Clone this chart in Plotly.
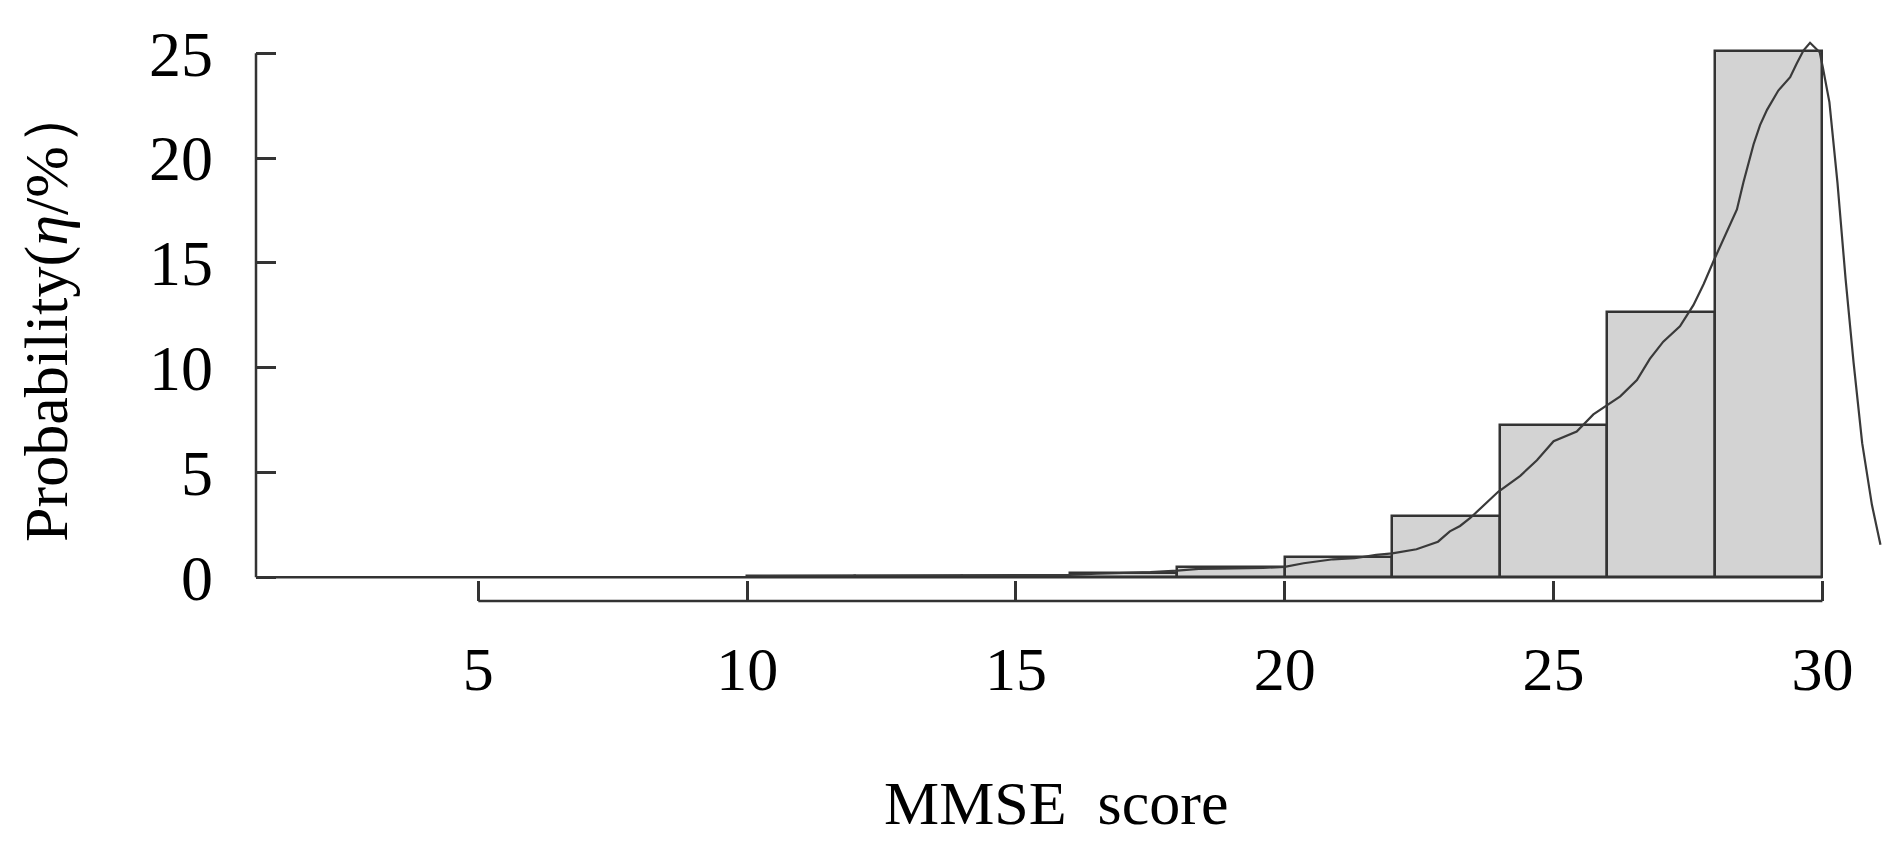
import plotly.graph_objects as go

# ---- data ----
bin_edges = [10, 12, 14, 16, 18, 20, 22, 24, 26, 28, 30]
bar_heights = [0.06, 0.06, 0.06, 0.19, 0.48, 0.98, 2.92, 7.26, 12.65, 25.1]

density_x = [10.0, 11.0, 12.0, 13.0, 14.0, 15.0, 16.0, 16.5, 17.0, 17.5, 18.0, 18.4, 18.8,
             19.2, 19.6, 20.0, 20.35, 20.9, 21.3, 21.7, 22.0, 22.45, 22.85, 23.07, 23.26,
             23.45, 23.97, 24.38, 24.69, 25.0, 25.43, 25.74, 25.96, 26.24, 26.55, 26.79,
             27.04, 27.35, 27.6, 27.79, 27.99, 28.22, 28.41, 28.53, 28.72, 28.84, 28.97,
             29.18, 29.4, 29.52, 29.65, 29.77, 29.95, 30.01, 30.13, 30.28, 30.43, 30.58,
             30.74, 30.92, 31.08]
density_y = [0.05, 0.06, 0.06, 0.07, 0.07, 0.08, 0.12, 0.17, 0.2, 0.25, 0.32, 0.4, 0.41,
             0.42, 0.45, 0.5, 0.67, 0.86, 0.91, 1.07, 1.14, 1.34, 1.7, 2.19, 2.45,
             2.83, 4.08, 4.84, 5.58, 6.49, 6.95, 7.77, 8.13, 8.63, 9.41, 10.42,
             11.24, 11.97, 12.98, 13.98, 15.17, 16.45, 17.55, 18.83, 20.66, 21.57, 22.3,
             23.22, 23.86, 24.5, 25.14, 25.5, 25.05, 24.3, 22.67, 18.83, 14.26, 10.24,
             6.4, 3.47, 1.55]

x_ticks = [5, 10, 15, 20, 25, 30]
y_ticks = [0, 5, 10, 15, 20, 25]
x_title = "MMSE&nbsp; score"
y_title = "Probability(<i>η</i>/%）"

FONT = "Liberation Serif, Times New Roman, serif"
LINE = "#333333"

X_RANGE = [0.865, 31.22]
Y_RANGE = [-1.13, 25.87]

centers = [(a + b) / 2 for a, b in zip(bin_edges[:-1], bin_edges[1:])]
widths = [b - a for a, b in zip(bin_edges[:-1], bin_edges[1:])]

fig = go.Figure()
fig.add_trace(go.Bar(
    x=centers, y=bar_heights, width=widths,
    marker=dict(color="#d3d3d3", line=dict(color=LINE, width=2.5)),
    showlegend=False, hoverinfo="skip",
))
fig.add_trace(go.Scatter(
    x=density_x, y=density_y, mode="lines",
    line=dict(color="#3a3a3a", width=2.2),
    showlegend=False, hoverinfo="skip",
))

# axis lines drawn as in base R (limited extents)
fig.add_shape(type="line", xref="paper", yref="y", x0=0, x1=0,
              y0=y_ticks[0], y1=y_ticks[-1], line=dict(color=LINE, width=2.5))
fig.add_shape(type="line", xref="x", yref="paper", x0=x_ticks[0], x1=x_ticks[-1],
              y0=0, y1=0, line=dict(color=LINE, width=2.5))
# baseline at zero, from the y axis to the last bin edge
fig.add_shape(type="line", xref="paper", yref="y", x0=0,
              x1=(bin_edges[-1] - X_RANGE[0]) / (X_RANGE[1] - X_RANGE[0]),
              y0=0, y1=0, line=dict(color=LINE, width=2.5))

fig.update_layout(
    width=1882, height=838,
    margin=dict(l=248, r=2, t=27, b=245),
    paper_bgcolor="white", plot_bgcolor="white",
    bargap=0,
    font=dict(family=FONT, color="black"),
    xaxis=dict(range=X_RANGE, tickvals=x_ticks, ticktext=[str(v) for v in x_ticks],
               ticks="inside", ticklen=20, tickwidth=2.5, tickcolor=LINE,
               showline=False, showgrid=False, zeroline=False,
               tickfont=dict(size=62, family=FONT), ticklabelstandoff=26),
    yaxis=dict(range=Y_RANGE, tickvals=y_ticks, ticktext=[str(v) for v in y_ticks],
               ticks="inside", ticklen=20, tickwidth=2.5, tickcolor=LINE,
               showline=False, showgrid=False, zeroline=False,
               tickfont=dict(size=64, family=FONT), ticklabelstandoff=42),
    annotations=[
        dict(text=x_title, xref="paper", yref="paper", x=(1056 - 256) / 1632,
             y=(601 - 803) / 566, xanchor="center", yanchor="middle", showarrow=False,
             font=dict(size=62, family=FONT, color="black")),
        dict(text=y_title, xref="paper", yref="paper", x=(46 - 256) / 1632,
             y=(601 - 313) / 566, xanchor="center", yanchor="middle", showarrow=False,
             textangle=-90, font=dict(size=62, family=FONT, color="black")),
    ],
)

fig.write_html("out.html")
